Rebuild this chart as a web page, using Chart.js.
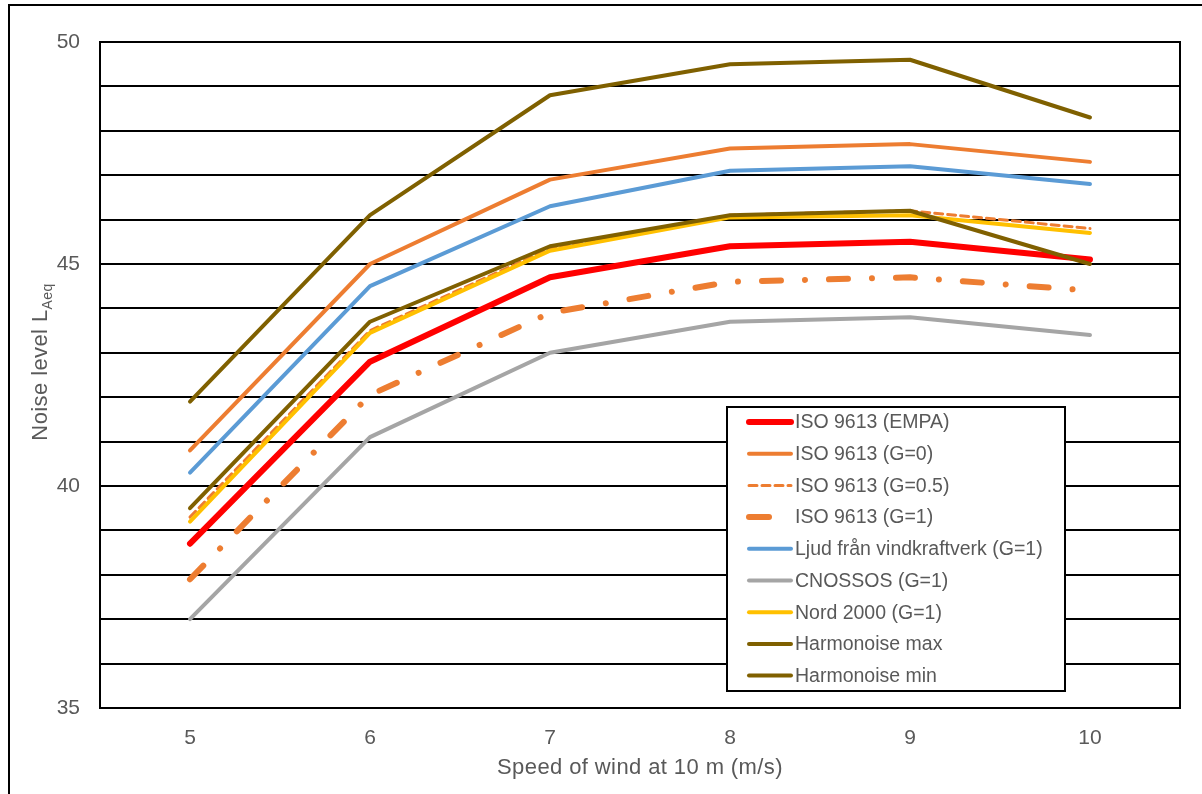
<!DOCTYPE html>
<html>
<head>
<meta charset="utf-8">
<title>Noise level vs wind speed</title>
<script src="https://cdn.jsdelivr.net/npm/chart.js@4/dist/chart.umd.min.js"></script>
<style>
    html, body { margin: 0; padding: 0; background: #fff; }
    #wrap { position: relative; width: 1202px; height: 794px; overflow: hidden; }
</style>
</head>
<body>
<div id="wrap"><canvas id="noiseChart" width="1202" height="794"></canvas></div>
<script>
// wind speed categories (m/s)
const speeds = ["5", "6", "7", "8", "9", "10"];

// noise levels, dB(A)
const isoEmpa = [38.7, 42.8, 44.7, 45.4, 45.5, 45.1];
const isoG0 = [40.8, 45.0, 46.9, 47.6, 47.7, 47.3];
const isoG05 = [39.3, 43.5, 45.35, 46.1, 46.2, 45.8];
const isoG1 = [37.9, 42.05, 43.9, 44.6, 44.7, 44.4];
const ljud = [40.3, 44.5, 46.3, 47.1, 47.2, 46.8];
const cnossos = [37.0, 41.1, 43.0, 43.7, 43.8, 43.4];
const nord2000 = [39.2, 43.45, 45.3, 46.05, 46.1, 45.7];
const harmMax = [41.9, 46.1, 48.8, 49.5, 49.6, 48.3];
const harmMin = [39.5, 43.7, 45.4, 46.1, 46.2, 45.0];

const yTickLabels = [35, 40, 45, 50];

const textColor = "#595959";
const fontFamily = "'Liberation Sans', Arial, sans-serif";

function series(label, data, color, width, dash, legendDash) {
    return {
        label: label,
        data: data,
        borderColor: color,
        backgroundColor: color,
        borderWidth: width,
        borderDash: dash || [],
        borderCapStyle: "round",
        borderJoinStyle: "round",
        pointRadius: 0,
        tension: 0,
        fill: false,
        legendDash: legendDash || dash || []
    };
}

var datasets = [
    series("ISO 9613 (EMPA)", isoEmpa, "#FF0000", 6),
    series("ISO 9613 (G=0)", isoG0, "#ED7D31", 4),
    series("ISO 9613 (G=0.5)", isoG05, "#ED7D31", 3, [8, 5]),
    series("ISO 9613 (G=1)", isoG1, "#ED7D31", 6, [19, 24, 0.01, 24], [20, 100]),
    series("Ljud från vindkraftverk (G=1)", ljud, "#5B9BD5", 4),
    series("CNOSSOS (G=1)", cnossos, "#A5A5A5", 4),
    series("Nord 2000 (G=1)", nord2000, "#FFC000", 4),
    series("Harmonoise max", harmMax, "#7F6000", 4),
    series("Harmonoise min", harmMin, "#806000", 4)
];
// later series sit on top of earlier ones
datasets.forEach(function (ds, i) { ds.order = datasets.length - i; });

// page frame, plot frame, axis titles and the boxed legend
const decorations = {
    id: "decorations",
    beforeDraw: function (chart) {
        const ctx = chart.ctx;
        ctx.save();
        ctx.fillStyle = "#fff";
        ctx.fillRect(0, 0, chart.width, chart.height);
        ctx.strokeStyle = "#000";
        ctx.lineWidth = 2;
        ctx.beginPath();
        ctx.moveTo(9, chart.height);
        ctx.lineTo(9, 5);
        ctx.lineTo(chart.width, 5);
        ctx.stroke();
        ctx.restore();
    },
    beforeDatasetsDraw: function (chart) {
        const ctx = chart.ctx;
        const a = chart.chartArea;
        ctx.save();
        ctx.strokeStyle = "#000";
        ctx.lineWidth = 2;
        ctx.strokeRect(a.left, a.top, a.right - a.left, a.bottom - a.top);
        ctx.restore();
    },
    afterDraw: function (chart) {
        const ctx = chart.ctx;
        const a = chart.chartArea;
        ctx.save();
        ctx.fillStyle = textColor;

        // x axis title
        ctx.font = "22px " + fontFamily;
        ctx.letterSpacing = "0.4px";
        ctx.textAlign = "center";
        ctx.textBaseline = "middle";
        ctx.fillText("Speed of wind at 10 m (m/s)", (a.left + a.right) / 2, 768);

        // y axis title with subscript
        const main = "Noise level L";
        const sub = "Aeq";
        ctx.font = "22px " + fontFamily;
        const wMain = ctx.measureText(main).width;
        ctx.font = "14px " + fontFamily;
        const wSub = ctx.measureText(sub).width;
        ctx.translate(47, 362);
        ctx.rotate(-Math.PI / 2);
        ctx.textAlign = "left";
        ctx.textBaseline = "alphabetic";
        const x0 = -(wMain + wSub) / 2;
        ctx.font = "22px " + fontFamily;
        ctx.fillText(main, x0, 0);
        ctx.font = "14px " + fontFamily;
        ctx.fillText(sub, x0 + wMain, 5);
        ctx.restore();

        // legend box
        const box = { x: 727, y: 407, w: 338, h: 284 };
        ctx.save();
        ctx.fillStyle = "#fff";
        ctx.fillRect(box.x, box.y, box.w, box.h);
        ctx.strokeStyle = "#000";
        ctx.lineWidth = 2;
        ctx.strokeRect(box.x, box.y, box.w, box.h);
        ctx.font = "19.5px " + fontFamily;
        ctx.textBaseline = "middle";
        ctx.textAlign = "left";
        chart.data.datasets.forEach(function (ds, i) {
            const y = 422 + i * 31.7;
            ctx.strokeStyle = ds.borderColor;
            ctx.lineWidth = ds.borderWidth;
            ctx.lineCap = "round";
            ctx.setLineDash(ds.legendDash);
            ctx.beginPath();
            ctx.moveTo(749, y);
            ctx.lineTo(791, y);
            ctx.stroke();
            ctx.setLineDash([]);
            ctx.fillStyle = textColor;
            ctx.fillText(ds.label, 795, y + 1);
        });
        ctx.restore();
    }
};

var config = {
    type: "line",
    data: { labels: speeds, datasets: datasets },
    options: {
        responsive: false,
        animation: false,
        devicePixelRatio: 1,
        layout: { padding: { left: 0, top: 42, right: 22, bottom: 0 } },
        plugins: {
            legend: { display: false },
            tooltip: { enabled: false }
        },
        scales: {
            x: {
                type: "category",
                offset: true,
                grid: { display: false, drawTicks: false },
                border: { display: false },
                ticks: {
                    color: textColor,
                    font: { family: fontFamily, size: 21 },
                    padding: 18,
                    maxRotation: 0
                },
                afterFit: function (scale) { scale.height = 86; }
            },
            y: {
                min: 35,
                max: 50,
                grid: { color: "#000", lineWidth: 2, drawTicks: false },
                border: { display: false },
                ticks: {
                    stepSize: 1,
                    color: textColor,
                    font: { family: fontFamily, size: 21 },
                    padding: 20,
                    autoSkip: false,
                    callback: function (v) {
                        return yTickLabels.indexOf(v) !== -1 ? String(v) : "";
                    }
                },
                afterFit: function (scale) { scale.width = 100; }
            }
        }
    },
    plugins: [decorations]
};

var noiseChart = new Chart(document.getElementById("noiseChart"), config);
</script>
</body>
</html>
